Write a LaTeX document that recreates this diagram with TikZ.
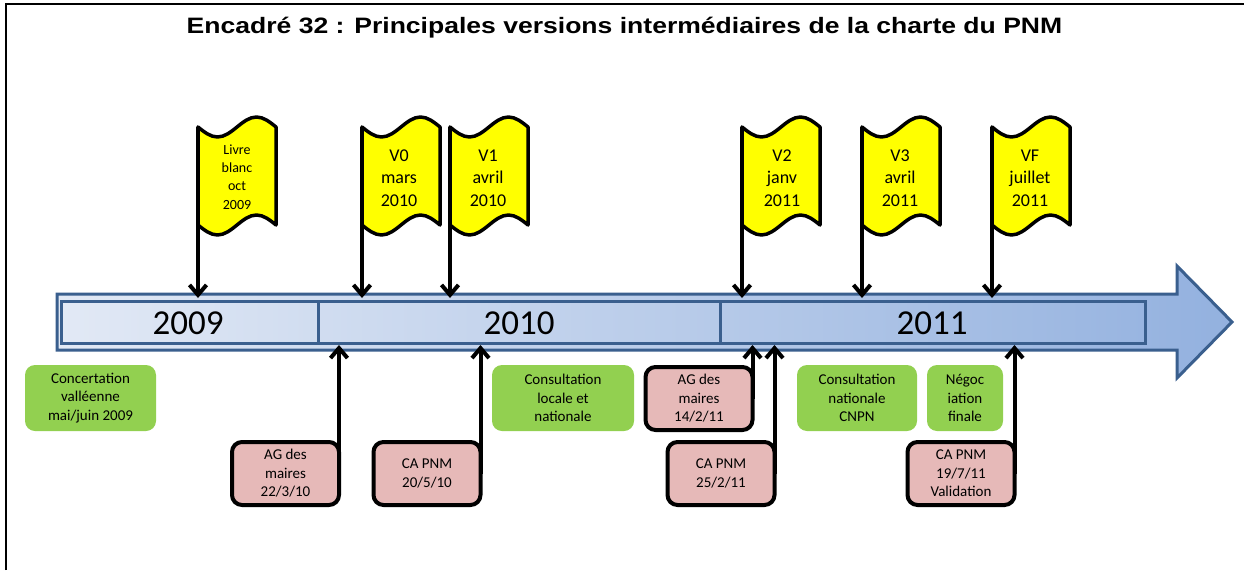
\documentclass[tikz,border=0pt]{standalone}
\usepackage{fontspec}
\setmainfont{Carlito}
\newfontfamily\titlefont[FakeStretch=1.19]{Liberation Sans}
\usetikzlibrary{arrows.meta}

\definecolor{barstroke}{HTML}{3A5F8E}
\definecolor{barleft}{HTML}{E2E9F5}
\definecolor{barright}{HTML}{93B1DF}
\definecolor{flagyellow}{HTML}{FFFF00}
\definecolor{pinkfill}{HTML}{E6B9B8}
\definecolor{greenfill}{HTML}{92D050}

\newcommand\myflag[2]{%
  \path[flagshape] (#1,127) sin ++(19.5,10) cos ++(19.5,-10) sin ++(19.5,-10) cos ++(19.5,10)
    -- ++(0,98) sin ++(-19.5,-10) cos ++(-19.5,10) sin ++(-19.5,10) cos ++(-19.5,-10) -- cycle;
  \coordinate (#2) at (#1,127);
}

\begin{document}
\begin{tikzpicture}[x=1pt,y=-1pt,
  polearrow/.style={line width=4pt,-{Straight Barb[length=10pt,width=17pt]}},
  flagshape/.style={fill=flagyellow,draw=black,line width=3.5pt,line join=round},
  flagtext/.style={align=center,font=\fontsize{18}{22.5}\selectfont,inner sep=0pt},
  smallflagtext/.style={align=center,font=\fontsize{14}{18.3}\selectfont,inner sep=0pt},
  pinkbox/.style={draw=black,line width=4pt,fill=pinkfill,rounded corners=10pt,
    minimum width=107pt,minimum height=63pt,align=center,outer sep=0pt,
    font=\fontsize{15}{18.6}\selectfont,inner sep=0pt},
  greenbox/.style={fill=greenfill,rounded corners=10pt,minimum height=66pt,align=center,
    font=\fontsize{15}{18.7}\selectfont,inner sep=0pt},
  yearlabel/.style={font=\fontsize{35}{40}\selectfont,inner sep=0pt},
  barline/.style={draw=barstroke,line width=3pt},
  titletext/.style={font=\titlefont\bfseries\fontsize{22.3}{26}\selectfont,inner sep=0pt,anchor=base}
]
\useasboundingbox (0,0) rectangle (1244,570);
\fill[white] (0,0) rectangle (1244,570);

% frame
\draw[line width=2pt] (6,570) -- (6,4) -- (1244,4);

% title
\node[titletext] (title) at (624.5,33) {Encadré 32 : Principales versions intermédiaires de la charte du PNM};

% big arrow
\path[barline,left color=barleft,right color=barright,line join=miter]
  (57,294) -- (1177,294) -- (1177,266) -- (1232,322) -- (1177,378) -- (1177,350) -- (57,350) -- cycle;
\draw[barline] (61,301) rectangle (318,343);
\draw[barline] (318,301) rectangle (720,343);
\draw[barline] (720,301) rectangle (1145,343);

\coordinate (bartop) at (0,298);
\coordinate (barbot) at (0,345);

\node[yearlabel] (y2009) at (188,323) {2009};
\node[yearlabel] (y2010) at (519,323) {2010};
\node[yearlabel] (y2011) at (932,323) {2011};

% flags
\myflag{198}{f1}
\node[smallflagtext] (t1) at (237,177) {Livre\\blanc\\oct\\2009};
\myflag{362}{f2}
\node[flagtext] (t2) at (399,178) {V0\\mars\\2010};
\myflag{450}{f3}
\node[flagtext] (t3) at (488,178) {V1\\avril\\2010};
\myflag{742}{f4}
\node[flagtext] (t4) at (782,178) {V2\\janv\\2011};
\myflag{862}{f5}
\node[flagtext] (t5) at (900,178) {V3\\avril\\2011};
\myflag{992}{f6}
\node[flagtext] (t6) at (1030,178) {VF\\juillet\\2011};

\foreach \f in {f1,f2,f3,f4,f5,f6}
  \draw[polearrow] (\f) -- (\f |- bartop);

% green boxes
\node[greenbox,minimum width=131pt] (g1) at (90.5,398) {Concertation\\valléenne\\mai/juin 2009};
\node[greenbox,minimum width=142pt] (g2) at (563,398) {Consultation\\locale et\\nationale};
\node[greenbox,minimum width=120pt] (g3) at (857,398) {Consultation\\nationale\\CNPN};
\node[greenbox,minimum width=76pt] (g4) at (965,398) {Négoc\\iation\\finale};

% pink boxes
\node[pinkbox] (p1) at (285.5,473.5) {AG des\\maires\\22/3/10};
\node[pinkbox] (p2) at (427,473.5) {CA PNM\\20/5/10};
\node[pinkbox] (p3) at (699,398.5) {AG des\\maires\\14/2/11};
\node[pinkbox] (p4) at (721,473.5) {CA PNM\\25/2/11};
\node[pinkbox] (p5) at (961,473.5) {CA PNM\\19/7/11\\Validation};

\foreach \p in {p1,p2,p3,p4,p5}
  \draw[polearrow] (\p.east) -- (\p.east |- barbot);
\end{tikzpicture}
\end{document}
